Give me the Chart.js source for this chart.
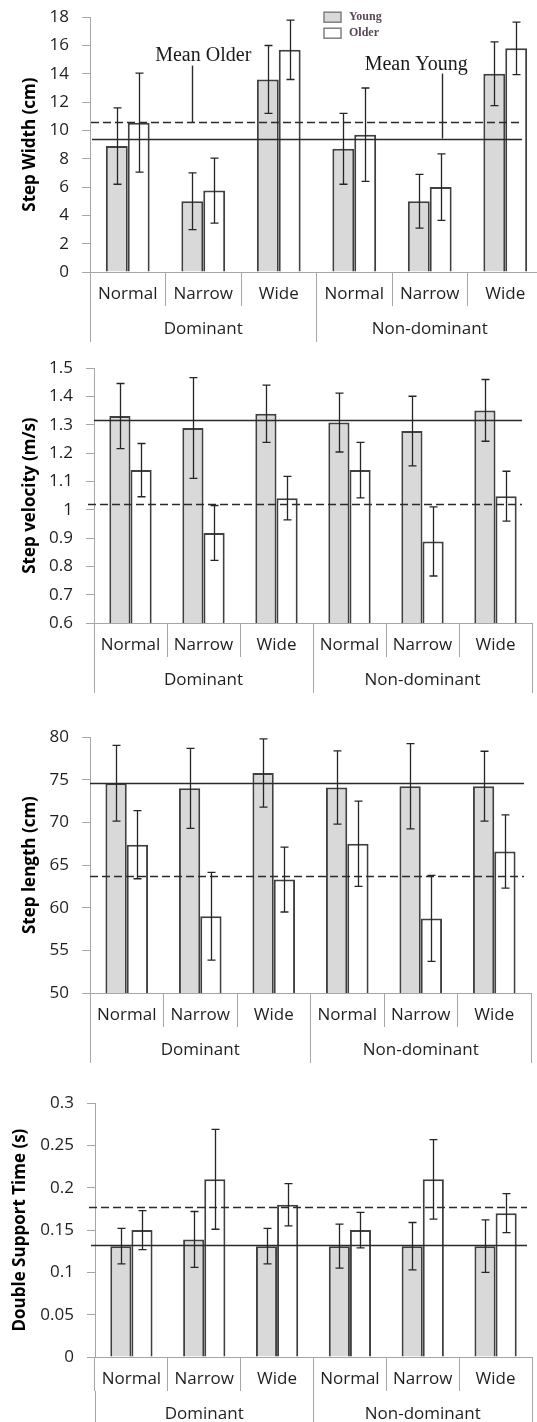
<!DOCTYPE html>
<html>
<head>
<meta charset="utf-8">
<script src="https://cdn.jsdelivr.net/npm/chart.js@4.4.1/dist/chart.umd.min.js"></script>
<style>
  html, body { margin: 0; padding: 0; background: #fff; overflow: hidden; }
  body { width: 537px; height: 1422px; position: relative; }
  canvas { position: absolute; left: 0; }
</style>
</head>
<body>
<canvas id="widthChart"></canvas>
<canvas id="velocityChart"></canvas>
<canvas id="lengthChart"></canvas>
<canvas id="dstChart"></canvas>
<script>
// ================= DATA =================

const categories = ['Normal', 'Narrow', 'Wide', 'Normal', 'Narrow', 'Wide'];
const groups = ['Dominant', 'Non-dominant'];
const seriesNames = ['Young', 'Older'];

// Step width (cm)
const widthYoung = [8.9, 5.0, 13.6, 8.7, 5.0, 14.0];
const widthYoungErr = [2.7, 2.0, 2.4, 2.5, 1.9, 2.25];
const widthOlder = [10.55, 5.75, 15.7, 9.7, 6.0, 15.8];
const widthOlderErr = [3.5, 2.3, 2.1, 3.3, 2.35, 1.85];
const widthMeans = [9.43, 10.57];            // young, older
const widthTicks = [0, 2, 4, 6, 8, 10, 12, 14, 16, 18];

// Step velocity (m/s)
const velYoung = [1.331, 1.289, 1.339, 1.308, 1.278, 1.351];
const velYoungErr = [0.115, 0.178, 0.101, 0.104, 0.123, 0.109];
const velOlder = [1.140, 0.918, 1.041, 1.140, 0.888, 1.048];
const velOlderErr = [0.094, 0.097, 0.077, 0.098, 0.122, 0.088];
const velMeans = [1.316, 1.020];
const velTicks = [0.6, 0.7, 0.8, 0.9, 1, 1.1, 1.2, 1.3, 1.4, 1.5];

// Step length (cm)
const lenYoung = [74.6, 74.0, 75.8, 74.1, 74.25, 74.25];
const lenYoungErr = [4.45, 4.7, 4.0, 4.3, 5.0, 4.1];
const lenOlder = [67.4, 59.0, 63.3, 67.5, 58.75, 66.6];
const lenOlderErr = [4.0, 5.15, 3.8, 5.0, 5.05, 4.3];
const lenMeans = [74.67, 63.7];
const lenTicks = [50, 55, 60, 65, 70, 75, 80];

// Double support time (s)
const dstYoung = [0.131, 0.139, 0.131, 0.131, 0.131, 0.131];
const dstYoungErr = [0.021, 0.033, 0.021, 0.026, 0.028, 0.031];
const dstOlder = [0.150, 0.210, 0.180, 0.150, 0.210, 0.170];
const dstOlderErr = [0.023, 0.059, 0.025, 0.021, 0.047, 0.023];
const dstMeans = [0.132, 0.177];
const dstTicks = [0, 0.05, 0.1, 0.15, 0.2, 0.25, 0.3];

// ================= STYLE =================

const AXIS_GRAY = '#a6a6a6';
const INK = '#262626';
const SUB_H = 34;      // category row height (separator length)
const GROUP_H = 36;    // group row height
const PAD_TOP = 20;
const CANVAS_W = 560;

Chart.defaults.font.family = '"Open Sans", sans-serif';

// ================= PLUGINS =================

const meanLinesPlugin = {
    id: 'meanLines',
    afterDatasetsDraw(chart, args, opts) {
        const { ctx } = chart;
        const y = chart.scales.y;
        opts.values.forEach((v, i) => {
            const py = Math.round(y.getPixelForValue(v)) + 0.5;
            const [x0, x1] = opts.spans[i];
            ctx.save();
            ctx.strokeStyle = '#2b2b2b';
            ctx.lineWidth = 1.4;
            ctx.setLineDash(i === 1 ? [8, 4] : []);
            ctx.beginPath();
            ctx.moveTo(x0, py);
            ctx.lineTo(x1, py);
            ctx.stroke();
            ctx.restore();
        });
    }
};

const errorBarsPlugin = {
    id: 'errorBars',
    afterDatasetsDraw(chart) {
        const { ctx } = chart;
        const y = chart.scales.y;
        chart.data.datasets.forEach((ds, di) => {
            const meta = chart.getDatasetMeta(di);
            meta.data.forEach((bar, i) => {
                const v = ds.data[i], e = ds.errors[i];
                const top = y.getPixelForValue(v + e);
                const bot = y.getPixelForValue(v - e);
                const x = Math.round(bar.x) + 0.5;
                ctx.save();
                ctx.strokeStyle = INK;
                ctx.lineWidth = 1.3;
                ctx.beginPath();
                ctx.moveTo(x, top); ctx.lineTo(x, bot);
                ctx.moveTo(x - 4, top); ctx.lineTo(x + 4, top);
                ctx.moveTo(x - 4, bot); ctx.lineTo(x + 4, bot);
                ctx.stroke();
                ctx.restore();
            });
        });
    }
};

const notesPlugin = {
    id: 'notes',
    afterDraw(chart, args, opts) {
        if (!opts.items) return;
        const { ctx } = chart;
        const { x, y } = chart.scales;
        opts.items.forEach(n => {
            ctx.save();
            ctx.fillStyle = '#1a1a1a';
            ctx.font = '20px "Liberation Serif", serif';
            ctx.textAlign = 'center';
            ctx.textBaseline = 'middle';
            ctx.fillText(n.text, x.getPixelForValue(n.x), y.getPixelForValue(n.y));
            const lx = Math.round(x.getPixelForValue(n.lineX)) + 0.5;
            ctx.strokeStyle = '#2b2b2b';
            ctx.lineWidth = 1.4;
            ctx.beginPath();
            ctx.moveTo(lx, y.getPixelForValue(n.lineTop));
            ctx.lineTo(lx, y.getPixelForValue(n.lineTo));
            ctx.stroke();
            ctx.restore();
        });
    }
};

const boxLegendPlugin = {
    id: 'boxLegend',
    afterDraw(chart, args, opts) {
        if (!opts.show) return;
        const { ctx, chartArea } = chart;
        chart.data.datasets.forEach((ds, i) => {
            const bx = opts.x;
            const by = chartArea.top + opts.dy + i * 16;
            ctx.save();
            ctx.fillStyle = ds.backgroundColor;
            ctx.fillRect(bx, by, 17, 10);
            ctx.strokeStyle = '#808080';
            ctx.lineWidth = 1.5;
            ctx.strokeRect(bx, by, 17, 10);
            ctx.fillStyle = '#584858';
            ctx.font = 'bold 12px "Liberation Serif", serif';
            ctx.textBaseline = 'middle';
            ctx.fillText(ds.label, bx + 25, by + 5);
            ctx.restore();
        });
    }
};

// ================= CHART BUILDER =================

function makePanel(p) {
    const canvas = document.getElementById(p.id);
    const plotH = p.bottom - p.top;
    canvas.width = CANVAS_W;
    canvas.height = PAD_TOP + plotH + SUB_H + GROUP_H;
    canvas.style.top = (p.top - PAD_TOP) + 'px';

    new Chart(canvas, {
        type: 'bar',
        data: {
            labels: categories,
            datasets: [
                {
                    label: seriesNames[0], data: p.young, errors: p.youngErr,
                    backgroundColor: '#d9d9d9', borderColor: '#404040', borderWidth: 2,
                    categoryPercentage: 0.58, barPercentage: 1
                },
                {
                    label: seriesNames[1], data: p.older, errors: p.olderErr,
                    backgroundColor: '#ffffff', borderColor: '#404040', borderWidth: 2,
                    categoryPercentage: 0.58, barPercentage: 1
                }
            ]
        },
        options: {
            responsive: false,
            animation: false,
            events: [],
            layout: { padding: { top: PAD_TOP, right: CANVAS_W - p.right, bottom: 0, left: 0 } },
            plugins: {
                legend: { display: false },
                tooltip: { enabled: false },
                meanLines: { values: p.means, spans: p.meanSpans },
                notes: { items: p.notes || null },
                boxLegend: { show: !!p.legend, x: 324, dy: -5 }
            },
            scales: {
                x: {
                    offset: true,
                    grid: { offset: true, drawOnChartArea: false, tickLength: SUB_H, color: AXIS_GRAY },
                    border: { color: AXIS_GRAY },
                    ticks: { padding: -22, autoSkip: false, maxRotation: 0, color: '#1f1f1f', font: { size: 17 } },
                    afterFit: s => { s.height = SUB_H; }
                },
                x2: {
                    type: 'category',
                    position: 'bottom',
                    labels: groups,
                    offset: true,
                    grid: { offset: true, drawOnChartArea: false, tickLength: GROUP_H, color: AXIS_GRAY },
                    border: { display: false },
                    ticks: { padding: -23.5, autoSkip: false, maxRotation: 0, color: '#1f1f1f', font: { size: 17 } },
                    afterFit: s => { s.height = GROUP_H; }
                },
                y: {
                    min: p.ticks[0],
                    max: p.ticks[p.ticks.length - 1],
                    afterBuildTicks: s => { s.ticks = p.ticks.map(v => ({ value: v })); },
                    grid: { drawOnChartArea: false, tickLength: 8, color: AXIS_GRAY },
                    border: { color: AXIS_GRAY },
                    ticks: { padding: 13, color: '#1f1f1f', font: { size: 17 }, callback: v => String(v) },
                    title: {
                        display: true, text: p.title, color: '#000',
                        font: { size: 17, weight: 'bold' },
                        padding: { top: p.titlePad, bottom: 0 }
                    },
                    afterFit: s => { s.width = p.axisX; }
                }
            }
        },
        plugins: [meanLinesPlugin, errorBarsPlugin, notesPlugin, boxLegendPlugin]
    });
}

document.addEventListener('DOMContentLoaded', () => {
    makePanel({
        id: 'widthChart', title: 'Step Width (cm)',
        young: widthYoung, youngErr: widthYoungErr, older: widthOlder, olderErr: widthOlderErr,
        means: widthMeans, ticks: widthTicks,
        top: 14, bottom: 272, axisX: 90, right: 543, titlePad: 20,
        meanSpans: [[92, 522], [91, 522]],
        legend: true,
        notes: [
            { text: 'Mean Older', x: 1.0, y: 15.28, lineX: 0.85, lineTop: 14.58, lineTo: widthMeans[1] },
            { text: 'Mean Young', x: 3.82, y: 14.65, lineX: 4.16, lineTop: 14.02, lineTo: widthMeans[0] }
        ]
    });

    makePanel({
        id: 'velocityChart', title: 'Step velocity (m/s)',
        young: velYoung, youngErr: velYoungErr, older: velOlder, olderErr: velOlderErr,
        means: velMeans, ticks: velTicks,
        top: 365, bottom: 623, axisX: 94, right: 532, titlePad: 20,
        meanSpans: [[94, 522], [88, 522]]
    });

    makePanel({
        id: 'lengthChart', title: 'Step length (cm)',
        young: lenYoung, youngErr: lenYoungErr, older: lenOlder, olderErr: lenOlderErr,
        means: lenMeans, ticks: lenTicks,
        top: 734, bottom: 993, axisX: 90, right: 531, titlePad: 20,
        meanSpans: [[90, 524], [90, 524]]
    });

    makePanel({
        id: 'dstChart', title: 'Double Support Time (s)',
        young: dstYoung, youngErr: dstYoungErr, older: dstOlder, olderErr: dstOlderErr,
        means: dstMeans, ticks: dstTicks,
        top: 1100, bottom: 1357, axisX: 95, right: 532, titlePad: 10,
        meanSpans: [[91, 527], [89, 527]]
    });
});
</script>
</body>
</html>
